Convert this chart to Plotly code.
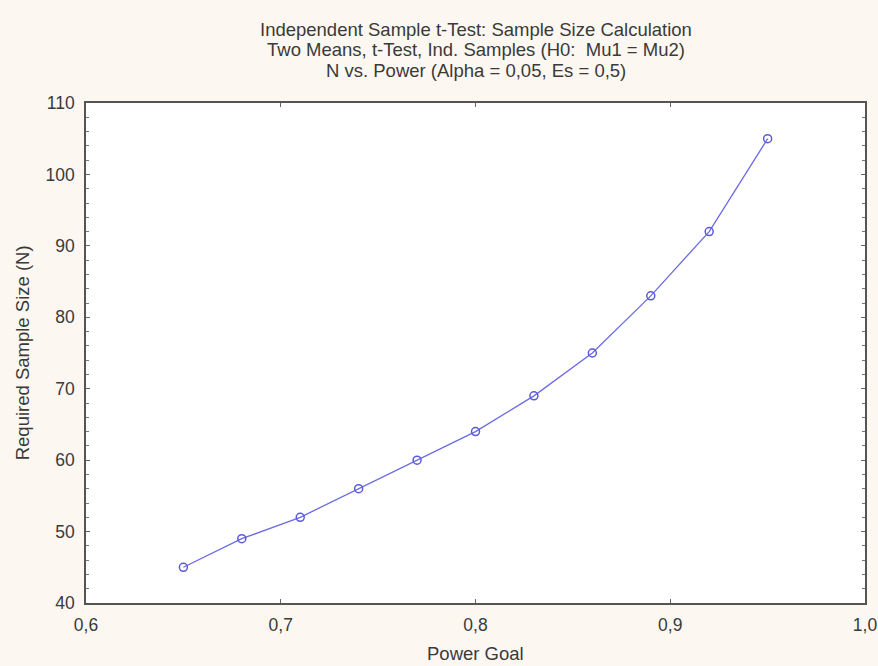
import plotly.graph_objects as go

power_goal = [0.65, 0.68, 0.71, 0.74, 0.77, 0.80, 0.83, 0.86, 0.89, 0.92, 0.95]
required_n = [45, 49, 52, 56, 60, 64, 69, 75, 83, 92, 105]

title_lines = [
    "Independent Sample t-Test: Sample Size Calculation",
    "Two Means, t-Test, Ind. Samples (H0:  Mu1 = Mu2)",
    "N vs. Power (Alpha = 0,05, Es = 0,5)",
]
x_title = "Power Goal"
y_title = "Required Sample Size (N)"

FONT = "Liberation Sans, Arial, sans-serif"
TXT = "#3a3a3a"

fig = go.Figure()
fig.add_trace(go.Scatter(
    x=power_goal, y=required_n, mode="lines+markers",
    line=dict(color="#6b6be3", width=1.3),
    marker=dict(symbol="circle-open", size=8, color="#5a5ad8", line=dict(width=1.5)),
    showlegend=False,
))

for i, t in enumerate(title_lines):
    fig.add_annotation(
        text=t, xref="paper", yref="paper", x=0.5, y=[1.148, 1.106, 1.064][i],
        xanchor="center", yanchor="middle", showarrow=False,
        font=dict(family=FONT, size=18.5, color=TXT),
    )

fig.add_annotation(text=x_title, xref="paper", yref="paper", x=0.5, y=-0.1,
                   xanchor="center", yanchor="middle", showarrow=False,
                   font=dict(family=FONT, size=18.5, color=TXT))
fig.add_annotation(text=y_title, xref="paper", yref="paper", x=-0.0818, y=0.5,
                   xanchor="center", yanchor="middle", showarrow=False, textangle=-90,
                   font=dict(family=FONT, size=18.5, color=TXT))

fig.update_layout(
    width=878, height=666,
    margin=dict(l=86, r=13, t=103, b=63, autoexpand=False),
    paper_bgcolor="#fcf8f1", plot_bgcolor="#ffffff",
    separators=",.",
    font=dict(family=FONT, size=18, color=TXT),
)
fig.update_xaxes(
    range=[0.6, 1.0], dtick=0.1, tickformat=".1f",
    showgrid=False, zeroline=False, automargin=False,
    showline=True, linecolor="#555555", linewidth=1.5, mirror="ticks",
    ticks="inside", ticklen=4, tickcolor="#666666",
    tickfont=dict(size=17.5), ticklabelstandoff=5, ticklabeloverflow="allow",
)
fig.update_yaxes(
    range=[40, 110], dtick=10,
    showgrid=False, zeroline=False, automargin=False,
    showline=True, linecolor="#555555", linewidth=1.5, mirror="ticks",
    ticks="inside", ticklen=4, tickcolor="#666666",
    minor=dict(dtick=2, ticks="inside", ticklen=3, tickcolor="#777777"),
    tickfont=dict(size=17.5), ticklabelstandoff=6, ticklabeloverflow="allow",
)

fig.write_html(
    "out.html",
    config={"displayModeBar": False},
    post_script="document.body.style.margin='0';document.body.style.overflow='hidden';",
)
